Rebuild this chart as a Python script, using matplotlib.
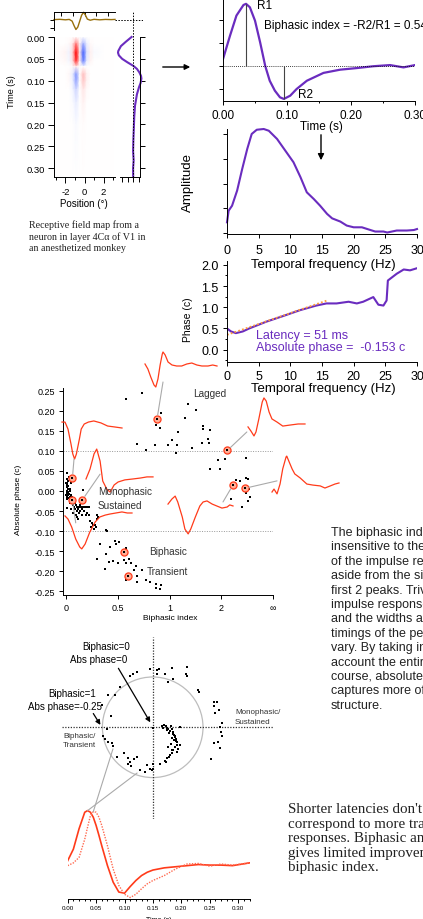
import numpy as np
import matplotlib
matplotlib.use("Agg")
import matplotlib.pyplot as plt
from matplotlib.colors import LinearSegmentedColormap
from matplotlib.patches import Circle, ConnectionPatch, FancyArrowPatch
from matplotlib.ticker import FormatStrFormatter, NullLocator

plt.rcParams['font.family'] = ['Liberation Sans', 'DejaVu Sans']
plt.rcParams['axes.unicode_minus'] = False
plt.rcParams['axes.linewidth'] = 0.7

# ---------------- data ----------------
# receptive field map: rows = time (s), cols = position (deg)
rf_pos = [-3.0, -2.0, -1.625, -1.25, -0.875, -0.5, -0.125, 0.25, 0.625, 1.0, 2.0, 3.0]
rf_time = [0.0, 0.015, 0.035, 0.055, 0.068, 0.085, 0.1, 0.12, 0.15, 0.2, 0.32]
rf_values = [
    [0, 0, 0, 0, 0, 0, 0, 0, 0, 0, 0, 0],
    [0, 0, 0.02, 0.08, 0.5, 0.05, -0.4, -0.08, 0.02, 0, 0, 0],
    [0, 0.04, -0.06, 0.15, 1.0, 0.1, -0.85, -0.15, 0.06, -0.03, 0, 0],
    [0, 0.03, -0.04, 0.12, 0.85, 0.06, -0.7, -0.1, 0.04, 0, 0, 0],
    [0, 0, 0, 0.02, 0.08, 0, 0.0, 0, 0, 0, 0, 0],
    [0, 0, 0.03, -0.08, -0.55, 0, 0.25, 0.05, 0, 0, 0, 0],
    [0, 0, 0.02, -0.07, -0.5, 0, 0.22, 0.05, 0, 0, 0, 0],
    [0, 0, 0, -0.04, -0.22, 0, 0.1, 0.02, 0, 0, 0, 0],
    [0, 0, 0, -0.02, -0.1, 0, 0.05, 0, 0, 0, 0, 0],
    [0, 0, 0, 0, -0.03, 0, 0.01, 0, 0, 0, 0, 0],
    [0, 0, 0, 0, 0, 0, 0, 0, 0, 0, 0, 0],
]

profile_pos = [-3.2, -2.6, -2.0, -1.6, -1.3, -1.1, -0.9, -0.7, -0.5, -0.3, -0.1,
               0.1, 0.3, 0.6, 1.0, 1.6, 2.2, 2.8, 3.2]
profile_val = [0.0, 0.03, -0.02, 0.02, -0.15, -0.6, -1.0, -0.75, -0.15, 0.45, 0.74,
               0.45, 0.05, -0.06, 0.03, -0.02, 0.02, 0.0, 0.02]

impulse_t = [0.0, 0.011, 0.021, 0.032, 0.036, 0.042, 0.050, 0.058, 0.066, 0.073, 0.081,
             0.089, 0.095, 0.105, 0.115, 0.131, 0.157, 0.183, 0.209, 0.235, 0.261,
             0.282, 0.30, 0.32]
impulse_r = [0.3, 1.32, 2.19, 2.65, 2.70, 2.55, 1.97, 1.03, 0.0, -0.64, -1.07,
             -1.36, -1.43, -1.29, -1.0, -0.64, -0.30, -0.16, -0.09, -0.01, 0.04,
             -0.06, 0.04, 0.02]

amp_freq = [0, 0.26, 0.8, 1.6, 2.4, 3.2, 3.9, 4.7, 5.8, 6.6, 7.9, 9.2, 10.5, 11.6,
            12.6, 13.7, 14.7, 15.8, 16.6, 17.9, 18.9, 20.0, 21.3, 22.4, 23.4, 24.7,
            25.3, 26.8, 28.4, 29.5, 30]
amp_val = [0.44, 0.91, 1.11, 1.72, 2.59, 3.40, 4.0, 4.17, 4.2, 4.13, 3.80, 3.33, 2.86,
           2.26, 1.65, 1.38, 1.11, 0.78, 0.60, 0.47, 0.31, 0.24, 0.24, 0.15, 0.07, 0.07,
           0.03, 0.11, 0.11, 0.13, 0.17]

phase_freq = [0, 0.63, 1.4, 2.5, 3.5, 6.2, 8.8, 11.5, 14.1, 15.7, 17.3, 19.2, 20.5,
              21.5, 23.1, 23.9, 24.7, 25.2, 25.4, 26.8, 27.9, 28.9, 30]
phase_val = [0.50, 0.43, 0.39, 0.43, 0.50, 0.66, 0.79, 0.93, 1.04, 1.09, 1.09, 1.13,
             1.09, 1.13, 1.24, 1.06, 1.04, 1.16, 1.63, 1.79, 1.89, 1.87, 1.92]
fit_freq = [0, 16]
fit_phase = [0.35, 1.17]

# biphasic index vs absolute phase
sustained_bi = [0.01, 0.005, 0.01, 0.02, 0.005, 0.01, 0.015, 0.02, 0.035, 0.04, 0.005,
                0.01, 0.02, 0.03, 0.015, 0.025, 0.005, 0.01, 0.02, 0.03, 0.035, 0.04,
                0.045, 0.05, 0.05, 0.06, 0.06, 0.07, 0.075, 0.08, 0.085, 0.09, 0.1, 0.1,
                0.11, 0.12, 0.12, 0.13, 0.14, 0.15, 0.16, 0.17, 0.18, 0.2, 0.22, 0.16,
                0.09, 0.15, 0.19, 0.2, 0.22, 0.23, 0.25, 0.26, 0.24, 0.28, 0.3, 0.31,
                0.29, 0.3, 0.27, 0.39, 0.01, 0.04, 0.065, 0.1, 0.11, 0.025, 0.0, 0.0,
                0.03, 0.13]
sustained_phase = [0.045, 0.03, 0.02, 0.025, 0.015, 0.01, 0.005, 0.012, 0.005, 0.02,
                   0.0, -0.005, -0.002, 0.0, -0.01, -0.008, -0.015, -0.02, -0.018,
                   -0.015, -0.02, -0.01, -0.025, -0.015, -0.03, -0.02, -0.035, -0.025,
                   -0.04, -0.03, -0.045, -0.035, -0.04, -0.05, -0.045, -0.04, -0.055,
                   -0.05, -0.04, -0.045, -0.04, -0.05, -0.04, -0.04, -0.04, 0.002,
                   -0.06, -0.06, -0.06, -0.055, -0.06, -0.075, -0.08, -0.085, -0.09,
                   -0.085, -0.06, -0.065, -0.09, -0.07, -0.095, -0.1, -0.042, -0.045,
                   -0.055, -0.065, -0.07, 0.035, 0.02, -0.01, -0.03, -0.035]
transient_bi = [0.33, 0.38, 0.42, 0.47, 0.51, 0.48, 0.30, 0.37, 0.41, 0.45, 0.50, 0.58,
                0.56, 0.58, 0.61, 0.63, 0.65, 0.67, 0.73, 0.68, 0.58, 0.68, 0.77, 0.81,
                0.87, 0.92, 0.91, 0.87, 0.38]
transient_phase = [-0.131, -0.158, -0.140, -0.125, -0.127, -0.133, -0.169, -0.194,
                   -0.177, -0.174, -0.180, -0.141, -0.173, -0.180, -0.169, -0.179,
                   -0.197, -0.187, -0.197, -0.212, -0.222, -0.226, -0.223, -0.227,
                   -0.233, -0.235, -0.245, -0.241, -0.098]
lagged_bi = [0.58, 0.735, 0.92, 0.87, 0.905, 0.68, 0.77, 0.86, 0.985, 1.02, 1.07, 1.09,
             1.075, 1.21, 1.18, 1.27, 1.35, 1.48, 1.48, 1.65, 1.45, 1.61, 1.6, 1.63,
             1.89, 1.96, 2.13, 3.77, 2.44, 2.82, 3.17, 3.77, 4.17, 4.35, 4.55, 4.17,
             3.28, 3.85]
lagged_phase = [0.230, 0.245, 0.194, 0.164, 0.158, 0.116, 0.101, 0.115, 0.115, 0.127,
                0.095, 0.147, 0.115, 0.217, 0.181, 0.107, 0.202, 0.162, 0.154, 0.151,
                0.119, 0.119, 0.129, 0.054, 0.077, 0.054, 0.080, 0.083, -0.021, 0.027,
                0.024, 0.032, 0.031, 0.004, -0.016, -0.024, -0.040, -0.004]
circ_bi = [0.058, 0.058, 0.155, 0.877, 2.26, 2.58, 3.64, 0.555, 0.60]
circ_phase = [0.032, -0.022, -0.022, 0.179, 0.101, 0.015, 0.0066, -0.151, -0.213]

# example impulse responses drawn next to the scatter (time fraction, amplitude)
ex_a_t = [0, .04, .08, .125, .15, .18, .21, .24, .25, .28, .32, .375, .44, .51, .58,
          .65, .72, .79, .875, .94, 1]
ex_a_v = [.25, 0, -.4, -.8, -.9, -.5, .2, .75, .85, .7, .35, .2, .15, .15, .25, .3,
          .2, .15, .15, .2, .15]
ex_b_t = [0, .05, .105, .14, .19, .25, .28, .32, .37, .42, .51, .61, .74, .88, 1]
ex_b_v = [-.52, -.71, -.95, -.76, -.14, .67, .86, .71, .19, -.14, -.29, -.48, -.43,
          -.38, -.38]
ex_c_t = [0, .03, .075, .12, .16, .21, .22, .25, .30, .34, .42, .52, .61, .72, .79,
          .87, .94, 1]
ex_c_v = [-.81, -.67, -.90, -.43, .29, .86, .90, .67, .29, .05, -.14, -.43, -.48, -.52,
          -.62, -.52, -.43, -.38]
ex_d_t = [0, .06, .11, .15, .22, .26, .31, .35, .42, .49, .54, .60, .68, .75, .83, .91,
          .95, 1]
ex_d_v = [.52, .76, .90, .62, -.10, -.67, -.90, -.67, -.10, .43, .62, .67, .52, .43,
          .33, .38, .48, .43]
ex_e_t = [0, .05, .10, .15, .18, .21, .24, .29, .32, .37, .44, .53, .65, .76, .87, 1]
ex_e_v = [.77, .77, .45, -.23, -.68, -.91, -.68, 0, .45, .68, .77, .82, .73, .59, .55, .5]
ex_f_t = [0, .06, .12, .16, .21, .25, .31, .36, .42, .48, .58, .70, .81, .91, 1]
ex_f_v = [-.39, .04, .70, .91, .39, -.48, -.83, -.96, -.65, -.52, -.43, -.39, -.35,
          -.30, -.30]
ex_g_t = [0, .045, .10, .16, .22, .25, .30, .37, .45, .52, .60, .67, .76, .85, .93, 1]
ex_g_v = [.67, .52, .14, -.43, -.81, -.90, -.67, -.10, .38, .62, .71, .76, .81, .86,
          .81, .81]

# polar-style plot (x, y with biphasic = 1 on the unit circle)
polar_x = [-1.01, -0.88, -0.75, -0.66, -0.46, -0.40, -0.32, -0.05, 0.09, 0.13, 0.09,
           0.25, 0.30, 0.40, 0.38, 0.68, 0.66, 0.68, 0.91, 0.93, -0.83, -0.91,
           1.22, 1.27, 1.22, 1.32, 1.24, 1.37, 1.34, 1.35, 1.37, 1.30, 1.21, 1.34, 1.15,
           -0.98, -0.95, -0.88, -0.81, -0.79, -0.70, -0.57, -0.50, -0.46, -0.44, -0.38,
           -0.32, -0.50, -0.26, -0.15, -0.11, -0.05, -0.02, 0.01, 0.0,
           0.01, 0.18, 0.23, 0.26, 0.29, 0.31, 0.34, 0.38, 0.41, 0.40, 0.44, 0.46, 0.48,
           0.49, 0.44, 0.51, 0.41, 0.38, 0.34, 0.29, 0.33, 0.26, 0.15, 0.54, 0.42, 0.36,
           0.21, 0.38, 0.49, 0.54, 0.28, 0.33, 0.43, 0.47, 0.36, 0.31, 0.24, 0.45, 0.39]
polar_y = [0.45, 0.64, 0.65, 0.81, 1.01, 1.06, 1.09, 1.15, 1.13, 1.15, 1.06,
           1.06, 0.91, 0.96, 1.18, 1.19, 1.06, 1.01, 0.75, 0.71, 0.22, -0.03,
           0.51, 0.51, 0.42, 0.35, 0.28, 0.09, 0.0, -0.09, -0.18, -0.30, -0.32, -0.41,
           -0.64, -0.18, -0.23, -0.30, -0.31, -0.38, -0.60, -0.51, -0.62, -0.70, -0.77,
           -0.63, -0.60, -0.73, -0.84, -0.88, -0.76, -0.83, -0.84, -0.83, -0.73,
           -0.01, 0.03, 0.05, 0.02, -0.01, -0.03, -0.07, -0.03, -0.09, -0.13, -0.18,
           -0.23, -0.30, -0.36, -0.40, -0.43, -0.46, -0.51, -0.56, -0.62, -0.60, -0.70,
           -0.73, 0.0, -0.26, 0.02, -0.02, -0.22, -0.50, -0.35, -0.05, -0.12, -0.15,
           -0.28, -0.33, -0.40, -0.68, -0.20, -0.45]

resp_t = [0, .01, .02, .03, .035, .04, .045, .05, .055, .06, .07, .08, .09, .1, .11,
          .12, .13, .14, .15, .17, .19, .21, .23, .25, .27, .29, .32]
resp_solid = [0.09, 0.30, 0.67, 0.97, 1.0, 0.97, 0.88, 0.73, 0.55, 0.36, 0.0, -0.30,
              -0.48, -0.50, -0.38, -0.27, -0.18, -0.12, -0.08, -0.04, -0.02, 0.0, 0.02,
              0.01, 0.01, 0.0, 0.05]
resp_dotted = [0.0, 0.05, 0.15, 0.48, 0.70, 0.91, 0.98, 0.97, 0.88, 0.73, 0.36, -0.06,
               -0.36, -0.52, -0.58, -0.52, -0.42, -0.33, -0.27, -0.18, -0.06, 0.03,
               0.04, -0.01, 0.03, 0.01, 0.05]

text_right = ["The biphasic index is", "insensitive to the shape", "of the impulse response",
              "aside from the size of the", "first 2 peaks. Trivially,",
              "impulse responses' shapes", "and the widths and", "timings of the peaks may",
              "vary. By taking into", "account the entire time", "course, absolute phase",
              "captures more of the", "structure."]
text_bottom = ["Shorter latencies don't", "correspond to more transient",
               "responses. Biphasic angle", "gives limited improvement over",
               "biphasic index."]
caption = ["Receptive field map from a", "neuron in layer 4C\u03b1 of V1 in",
           "an anesthetized monkey"]

# ---------------- figure ----------------
W, H = 423, 920
fig = plt.figure(figsize=(W / 100, H / 100), dpi=100)
fig.patch.set_facecolor('white')

purple = '#6a2cbf'
red = '#ff3b1a'
brown = '#98700c'
serif = ['Liberation Serif', 'DejaVu Serif']


def box(x0, y0, x1, y1):
    return [x0 / W, 1 - y1 / H, (x1 - x0) / W, (y1 - y0) / H]


def ftext(x, y, s, **kw):
    kw.setdefault('ha', 'center')
    kw.setdefault('va', 'center')
    fig.text(x / W, 1 - y / H, s, **kw)


def clean(ax, size, pad, length=3.0):
    ax.spines['top'].set_visible(False)
    ax.spines['right'].set_visible(False)
    ax.tick_params(which='both', direction='out', width=0.7, labelsize=size, pad=pad)
    ax.tick_params(which='major', length=length)
    ax.tick_params(which='minor', length=length * 0.6)
    ax.patch.set_alpha(0)


def fig_arrow(x0, y0, x1, y1, scale):
    fig.patches.append(FancyArrowPatch((x0 / W, 1 - y0 / H), (x1 / W, 1 - y1 / H),
                                       transform=fig.transFigure, arrowstyle='-|>',
                                       mutation_scale=scale, color='k', lw=1.0))


# receptive field map
rf_cmap = LinearSegmentedColormap.from_list('rf', ['#2244ff', '#ffffff', '#ff0000'])
ax_rf = fig.add_axes(box(54, 38, 115, 178))
ax_rf.pcolormesh(rf_pos, rf_time, rf_values, shading='gouraud', cmap=rf_cmap,
                 vmin=-1, vmax=1)
ax_rf.set_xlim(-3.2, 3.2)
ax_rf.set_ylim(0.32, 0)
clean(ax_rf, 6.8, 2.5, 4)
ax_rf.set_xticks([-2, 0, 2])
ax_rf.set_xticks([-3, -1, 1, 3], minor=True)
ax_rf.set_yticks([0, 0.05, 0.10, 0.15, 0.20, 0.25, 0.30])
ax_rf.yaxis.set_major_formatter(FormatStrFormatter('%.2f'))
ax_rf.tick_params(axis='x', pad=3.5)
ftext(12, 92, 'Time (s)', rotation=90, size=6.5)
ftext(84, 204, 'Position (\u00b0)', size=7)

# spatial profile on top
px_per_deg = 61 / 6.4
ax_tr = fig.add_axes(box(54, 13, 143, 31))
lo, hi = -3.2, -3.2 + 89 / px_per_deg
ax_tr.plot(profile_pos, profile_val, color=brown, lw=1.0, clip_on=False)
ax_tr.axhline(0, xmin=(3.2 - lo) / (hi - lo), ls=(0, (1.5, 1.5)), color='k', lw=0.7)
ax_tr.set_xlim(lo, hi)
ax_tr.set_ylim(-1.05, 0.77)
ax_tr.spines['bottom'].set_visible(False)
ax_tr.spines['right'].set_visible(False)
ax_tr.spines['top'].set_bounds(-3.2, 3.2)
ax_tr.xaxis.tick_top()
ax_tr.set_xticks([-2.5, -1.25, 0, 1.25, 2.5])
ax_tr.set_yticks([0, -0.87])
ax_tr.tick_params(axis='x', direction='in', length=3, width=0.7, labeltop=False)
ax_tr.tick_params(axis='y', direction='out', length=3, width=0.7, labelleft=False)
ax_tr.patch.set_alpha(0)

# temporal profile beside the map
ax_pf = fig.add_axes(box(115, 13, 140, 178))
ax_pf.plot(-np.array(impulse_r), impulse_t, color=purple, lw=1.5, clip_on=False)
ax_pf.axvline(0, ls=(0, (1.5, 1.5)), color='k', lw=0.7)
ax_pf.set_xlim(-3.23, 1.18)
ax_pf.set_ylim(0.32, -0.057)
ax_pf.spines['left'].set_visible(False)
ax_pf.spines['top'].set_visible(False)
ax_pf.spines['right'].set_bounds(0, 0.32)
ax_pf.spines['bottom'].set_bounds(-2.4, 1.18)
ax_pf.yaxis.tick_right()
ax_pf.set_yticks([0, 0.05, 0.10, 0.15, 0.20, 0.25, 0.30])
ax_pf.set_xticks([-2, -1, 0, 1])
ax_pf.tick_params(direction='out', length=3.5, width=0.7, labelright=False,
                  labelbottom=False)
ax_pf.patch.set_alpha(0)

for i, line in enumerate(caption):
    ftext(29, 225 + 12 * i, line, ha='left', size=7.2, family=serif, color='#222222')

# impulse response
ax_imp = fig.add_axes(box(223, 0, 415, 102))
ax_imp.plot(impulse_t, impulse_r, color=purple, lw=1.6)
ax_imp.axhline(0, ls=(0, (1, 1.5)), color='k', lw=0.6)
i1 = int(np.argmax(impulse_r))
i2 = int(np.argmin(impulse_r))
ax_imp.vlines([impulse_t[i1], impulse_t[i2]], 0, [impulse_r[i1], impulse_r[i2]],
              color='#444444', lw=0.8)
ax_imp.set_xlim(0, 0.3)
ax_imp.set_ylim(-1.52, 2.91)
clean(ax_imp, 8.5, 2.5)
ax_imp.set_xticks([0, 0.1, 0.2, 0.3])
ax_imp.set_xticks([0.05, 0.15, 0.25], minor=True)
ax_imp.xaxis.set_major_formatter(FormatStrFormatter('%.2f'))
ax_imp.set_yticks([-1, 0, 1, 2])
ax_imp.tick_params(axis='y', labelleft=False)
ftext(257, 6, 'R1', ha='left', size=8.5)
ftext(298, 95, 'R2', ha='left', size=8.5)
ftext(264, 26, 'Biphasic index = -R2/R1 = 0.54', ha='left', size=8.5)
ftext(321, 127, 'Time (s)', size=8.5)
fig_arrow(160, 68, 193, 68, 8)

# amplitude spectrum
ax_amp = fig.add_axes(box(227, 130, 417, 235))
ax_amp.plot(amp_freq, amp_val, color=purple, lw=1.5, clip_on=False)
ax_amp.set_xlim(0, 30)
ax_amp.set_ylim(-0.03, 4.2)
clean(ax_amp, 9, 4.5)
ax_amp.set_xticks([0, 5, 10, 15, 20, 25, 30])
ax_amp.set_yticks([0, 1, 2, 3, 4])
ax_amp.tick_params(axis='y', labelleft=False)
ftext(188, 182, 'Amplitude', rotation=90, size=9.5)
ftext(323, 265, 'Temporal frequency (Hz)', size=9.5)
fig_arrow(321, 133, 321, 164, 9)

# phase spectrum
ax_ph = fig.add_axes(box(227, 262, 417, 363))
ax_ph.plot(phase_freq, phase_val, color=purple, lw=1.5)
ax_ph.plot(fit_freq, fit_phase, color='#ff9a3c', lw=1.3, ls=(0, (1, 1.2)))
ax_ph.set_xlim(0, 30)
ax_ph.set_ylim(-0.29, 2.09)
clean(ax_ph, 9, 3)
ax_ph.set_xticks([0, 5, 10, 15, 20, 25, 30])
ax_ph.set_yticks([0.0, 0.5, 1.0, 1.5, 2.0])
ax_ph.set_yticks([-0.25, 0.25, 0.75, 1.25, 1.75], minor=True)
ax_ph.yaxis.set_major_formatter(FormatStrFormatter('%.1f'))
ftext(188, 320, 'Phase (c)', rotation=90, size=7.5)
ftext(323, 389, 'Temporal frequency (Hz)', size=9.5)
ftext(256, 336, 'Latency = 51 ms', ha='left', size=9, color=purple)
ftext(256, 348, 'Absolute phase =  -0.153 c', ha='left', size=9, color=purple)


# biphasic index vs absolute phase (index > 1 compressed towards infinity)
def fwd(b):
    b = np.asarray(b, dtype=float)
    with np.errstate(divide='ignore', invalid='ignore'):
        return np.where(b <= 1, 2 * b, 4 - 2 / b)


def inv(u):
    u = np.asarray(u, dtype=float)
    with np.errstate(divide='ignore', invalid='ignore'):
        return np.where(u <= 2, u / 2, 2 / (4 - u))


ax_sc = fig.add_axes(box(63, 389, 273, 596))
ax_sc.set_xscale('function', functions=(fwd, inv))
for xs, ys in [(sustained_bi, sustained_phase), (transient_bi, transient_phase),
               (lagged_bi, lagged_phase)]:
    ax_sc.scatter(xs, ys, marker='s', s=4, color='k', lw=0, zorder=3)
ax_sc.scatter(circ_bi, circ_phase, s=26, facecolor='#ffae96', edgecolor=red, lw=0.9,
              zorder=4)
ax_sc.scatter(circ_bi, circ_phase, marker='s', s=4, color='k', lw=0, zorder=5)
ax_sc.axhline(0.1, ls=(0, (1, 1.5)), color='#999999', lw=0.7)
ax_sc.axhline(-0.1, ls=(0, (1, 1.5)), color='#999999', lw=0.7)
ax_sc.set_xlim(-0.033, 1e9)
ax_sc.set_ylim(-0.2592, 0.2567)
clean(ax_sc, 6.5, 2.5, 3)
ax_sc.set_xticks([0, 0.5, 1, 2, 1e9])
ax_sc.set_xticklabels(['0', '0.5', '1', '2', '\u221e'])
ax_sc.xaxis.set_minor_locator(NullLocator())
ax_sc.set_yticks([-0.25, -0.2, -0.15, -0.1, -0.05, 0.0, 0.05, 0.1, 0.15, 0.2, 0.25])
ax_sc.yaxis.set_major_formatter(FormatStrFormatter('%.2f'))
ftext(18, 500, 'Absolute phase (c)', rotation=90, size=6)
ftext(170, 619, 'Biphasic index', size=6)
ftext(210, 394, 'Lagged', size=7.2, color='#333333')
ftext(98, 492, 'Monophasic', ha='left', size=7.2, color='#333333')
ftext(98, 506, 'Sustained', ha='left', size=7.2, color='#333333')
ftext(149, 552, 'Biphasic', ha='left', size=7.2, color='#333333')
ftext(147, 572, 'Transient', ha='left', size=7.2, color='#333333')

# example impulse responses linked to circled cells
examples = [
    (ex_a_t, ex_a_v, (145, 217, 370, 20), 3, (0.25, 0.175)),
    (ex_b_t, ex_b_v, (248, 305, 417, 21), 4, (-0.02, 0.12)),
    (ex_c_t, ex_c_v, (272, 339, 476, 21), 6, (0.075, 0.36)),
    (ex_d_t, ex_d_v, (168, 233, 516, 21), 5, (0.846, 0.81)),
    (ex_e_t, ex_e_v, (62, 122, 440, 22), 0, (0.2, 0.045)),
    (ex_f_t, ex_f_v, (86, 153, 471, 23), 2, (0.21, 0.41)),
    (ex_g_t, ex_g_v, (65, 132, 531, 21), 1, (0.16, 0.67)),
]
for xs, vs, (x0, x1, ym, hh), ci, frac in examples:
    a = fig.add_axes(box(x0, ym - hh, x1, ym + hh))
    a.plot(xs, vs, color=red, lw=0.9, clip_on=False)
    a.set_xlim(0, 1)
    a.set_ylim(-1, 1)
    a.axis('off')
    con = ConnectionPatch(xyA=(circ_bi[ci], circ_phase[ci]), coordsA=ax_sc.transData,
                          xyB=frac, coordsB=a.transAxes, color='#aaaaaa', lw=0.8,
                          shrinkA=3, shrinkB=0)
    fig.add_artist(con)

# polar-style plot
ax_po = fig.add_axes(box(62, 638, 274, 820))
ax_po.axis('off')
ax_po.add_patch(Circle((0, 0), 1, fill=False, ec='#bdbdbd', lw=0.9))
ax_po.axhline(0, ls=(0, (1, 1.2)), color='#333333', lw=0.9)
ax_po.axvline(0, ls=(0, (1, 1.2)), color='#333333', lw=0.9)
ax_po.scatter(polar_x, polar_y, marker='s', s=4, color='k', lw=0, zorder=3)
ax_po.set_xlim(-1.803, 2.411)
ax_po.set_ylim(-1.824, 1.795)
ax_po.annotate('', xy=(-0.02, 0.05), xytext=(-0.71, 1.22),
               arrowprops=dict(arrowstyle='-|>', color='k', lw=0.9, mutation_scale=7))
ax_po.annotate('', xy=(-1.01, 0.0), xytext=(-1.21, 0.32),
               arrowprops=dict(arrowstyle='-|>', color='k', lw=0.9, mutation_scale=7))
ftext(106, 647, 'Biphasic=0', size=7)
ftext(99, 660, 'Abs phase=0', size=7)
ftext(72, 694, 'Biphasic=1', size=7)
ftext(65, 707, 'Abs phase=-0.25', size=7)
ftext(63, 737, 'Biphasic/', ha='left', size=5.8, color='#333333')
ftext(63, 746, 'Transient', ha='left', size=5.8, color='#333333')
ftext(235, 713, 'Monophasic/', ha='left', size=5.8, color='#333333')
ftext(235, 722, 'Sustained', ha='left', size=5.8, color='#333333')

# two example responses (solid vs dotted)
ax_rs = fig.add_axes(box(67.7, 805, 249.5, 900))
ax_rs.plot(resp_t, resp_solid, color=red, lw=1.2)
ax_rs.plot(resp_t, resp_dotted, color='#ff6a50', lw=1.0, ls=(0, (1, 1)))
ax_rs.set_xlim(0, 0.32)
ax_rs.set_ylim(-0.606, 1.12)
clean(ax_rs, 4.5, 1.5, 3)
ax_rs.spines['left'].set_visible(False)
ax_rs.set_yticks([])
ax_rs.set_xticks([0, 0.05, 0.10, 0.15, 0.20, 0.25, 0.30])
ax_rs.set_xticks(np.arange(0, 0.325, 0.01), minor=True)
ax_rs.xaxis.set_major_formatter(FormatStrFormatter('%.2f'))
ftext(159, 921, 'Time (s)', size=5)
js = int(np.argmax(resp_solid))
jd = int(np.argmax(resp_dotted))
for start, j, curve in [((-0.79, -0.43), jd, resp_dotted), ((-0.31, -0.91), js, resp_solid)]:
    fig.add_artist(ConnectionPatch(xyA=start, coordsA=ax_po.transData,
                                   xyB=(resp_t[j], curve[j]), coordsB=ax_rs.transData,
                                   color='#aaaaaa', lw=0.8))

# text blocks
for i, line in enumerate(text_right):
    ftext(331, 533 + 14.4 * i, line, ha='left', size=9, color='#222222')
for i, line in enumerate(text_bottom):
    ftext(288, 810 + 14.4 * i, line, ha='left', size=10.8, family=serif, color='#222222')

fig.savefig('out.png', dpi=100)
